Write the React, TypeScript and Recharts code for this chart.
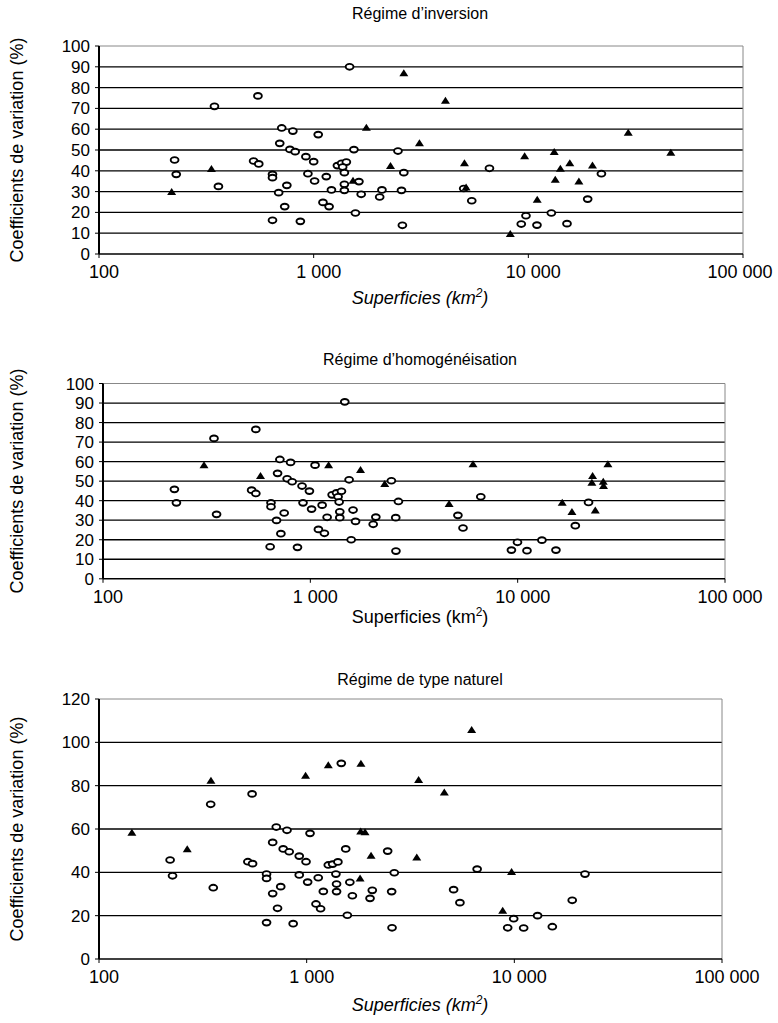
import React from 'react';
import { ScatterChart, Scatter, XAxis, YAxis, ReferenceLine } from 'recharts';

// [superficie km², coefficient de variation %]
const inversionCircles: [number, number][] = [
  [1470, 90], [550, 76], [345, 71], [710, 60.6], [800, 59.1], [1050, 57.4], [695, 53.2], [775, 50.3],
  [820, 49.2], [1540, 50.2], [2470, 49.5], [225, 45.2], [920, 46.8], [1000, 44.4], [525, 44.7], [555, 43.3],
  [1290, 42.5], [1350, 43.6], [1420, 44.2], [1365, 41.8], [1390, 39.1], [2630, 39.1], [229, 38.3], [643, 38.3],
  [643, 36.7], [940, 38.6], [1145, 37.2], [1010, 35.1], [750, 33], [1390, 33.5], [1625, 34.8], [360, 32.5],
  [687, 29.5], [1210, 30.8], [1390, 30.6], [1665, 28.7], [2080, 30.8], [2030, 27.4], [2565, 30.6], [1105, 24.8],
  [1180, 22.8], [733, 22.8], [1565, 19.7], [643, 16.2], [867, 15.7], [2590, 13.8],
  [6590, 41.2], [21900, 38.6], [5000, 31.5], [5450, 25.6], [18900, 26.4], [12800, 19.7], [9750, 18.4],
  [9270, 14.4], [10970, 13.9], [15140, 14.6],
];
const inversionTriangles: [number, number][] = [
  [2630, 86.9], [1760, 60.7], [3110, 53.2], [334, 40.9], [2280, 42.3], [218, 29.8], [1525, 35.2],
  [4110, 73.7], [29200, 58.3], [46100, 48.7], [9610, 47], [13200, 49], [5040, 43.6], [15600, 43.6],
  [19900, 42.5], [14100, 41], [13350, 35.7], [17200, 34.9], [5130, 32], [11000, 26.1], [8240, 9.6],
];

const homogCircles: [number, number][] = [
  [1466, 90.6], [546, 76.5], [343, 71.9], [713, 61.1], [803, 59.6], [1054, 58.2], [695, 54], [773, 51.2],
  [817, 49.7], [1538, 50.7], [2460, 50.2], [221, 45.8], [912, 47.5], [990, 44.9], [521, 45.4], [546, 43.7],
  [1274, 43], [1337, 44], [1413, 44.8], [1361, 42], [1377, 39.3], [2660, 39.6], [226, 38.9], [646, 38.9],
  [646, 36.9], [922, 38.9], [1140, 37.7], [1014, 35.7], [748, 33.7], [1387, 34.3], [1607, 35.2], [353, 33],
  [687, 29.9], [1205, 31.5], [1387, 31.3], [1652, 29.4], [2070, 31.6], [2010, 27.9], [2582, 31.3], [1094, 25.3],
  [1169, 23.3], [721, 23.1], [1574, 20], [640, 16.4], [867, 16.1], [2588, 14.2],
  [6640, 42], [5150, 32.5], [5450, 26], [21970, 39.1], [18970, 27.2], [13090, 19.8], [9980, 18.7],
  [9330, 14.7], [11090, 14.4], [15300, 14.7],
];
const homogTriangles: [number, number][] = [
  [307, 58.2], [575, 52.6], [1225, 58.2], [1746, 55.7], [2285, 48.5], [6090, 58.6], [4670, 38.3],
  [16400, 38.9], [18270, 34.2], [23680, 35], [22980, 52.7], [22800, 49.2], [25870, 49.7], [25950, 47.5],
  [27240, 58.6],
];

const naturelCircles: [number, number][] = [
  [1468, 90.3], [546, 76.2], [345, 71.4], [714, 60.9], [804, 59.4], [1038, 58], [686, 53.8], [771, 50.8],
  [824, 49.5], [1542, 50.8], [2455, 49.8], [220, 45.7], [921, 47.5], [993, 44.9], [521, 44.9], [549, 44],
  [1271, 43.4], [1334, 43.8], [1414, 44.8], [1383, 39.2], [2642, 39.8], [226, 38.4], [641, 39.2], [641, 37.2],
  [921, 38.8], [1137, 37.5], [1011, 35.5], [750, 33.4], [1393, 34.6], [1614, 35.4], [355, 32.9], [686, 30.2],
  [1203, 31.2], [1393, 31.1], [1660, 29.2], [2070, 31.7], [2019, 28], [2566, 31.1], [1109, 25.4], [1167, 23.2],
  [724, 23.4], [1570, 20.2], [641, 16.8], [861, 16.3], [2577, 14.4],
  [6620, 41.5], [21890, 39.2], [5100, 32], [5470, 26], [19000, 27.1], [12940, 20], [9930, 18.6],
  [9290, 14.4], [11090, 14.3], [15240, 14.9],
];
const naturelTriangles: [number, number][] = [
  [144, 58.3], [266, 50.6], [346, 82.3], [988, 84.6], [1271, 89.4], [1825, 90.1], [3460, 82.6],
  [1820, 58.9], [1910, 58.5], [2042, 47.7], [3390, 46.9], [1808, 37.2], [6230, 105.7], [4600, 76.8],
  [9700, 40.2], [8790, 22.3],
];

const xTicks = [100, 1000, 10000, 100000];
const yTicks100 = [0, 10, 20, 30, 40, 50, 60, 70, 80, 90, 100];
const yTicks120 = [0, 20, 40, 60, 80, 100, 120];

const FONT = '"Liberation Sans", Arial, sans-serif';

const fmt = (v: number) => String(v).replace(/\B(?=(\d{3})+(?!\d))/g, ' ');
const toPoints = (rows: [number, number][]) => rows.map(([x, y]) => ({ x, y }));

const Ring = (p: any) => (
  <ellipse cx={p.cx} cy={p.cy} rx={3.9} ry={2.9} fill="#fff" stroke="#000" strokeWidth={1.9} />
);
const Tri = (p: any) => (
  <path d={`M${p.cx},${p.cy - 4} L${p.cx + 4.5},${p.cy + 3} L${p.cx - 4.5},${p.cy + 3} Z`} fill="#000" />
);

// labels sit a bit right of their tick, but the last one must stay inside the page
const XTick = (props: any) => {
  const { x, y, payload } = props;
  const cx = Math.min(x + 5, 740);
  return (
    <text x={cx} y={y} dy="0.71em" textAnchor="middle" fontSize={18} fontFamily={FONT} fill="#000">
      {fmt(payload.value)}
    </text>
  );
};

interface PanelProps {
  top: number;
  height: number;
  left: number;
  right: number;
  plotTop: number;
  plotBottom: number;
  yTicks: number[];
  circles: [number, number][];
  triangles: [number, number][];
  title: string;
  titleY: number;
  xTitleY: number;
  italic: boolean;
}

function Panel(p: PanelProps) {
  const yMax = p.yTicks[p.yTicks.length - 1];
  const midY = (p.plotTop + p.plotBottom) / 2;
  return (
    <div style={{ position: 'absolute', left: 0, top: p.top, width: 778, height: p.height, fontFamily: FONT }}>
      <div style={{ position: 'absolute', left: 0, width: 840, top: p.titleY - 10, textAlign: 'center', fontSize: 16, lineHeight: '20px' }}>
        {p.title}
      </div>
      <div style={{ position: 'absolute', left: 0, width: 840, top: p.xTitleY - 11, textAlign: 'center', fontSize: 18, lineHeight: '22px', fontStyle: p.italic ? 'italic' : 'normal' }}>
        Superficies (km<sup style={{ fontSize: 12, lineHeight: 0 }}>2</sup>)
      </div>
      <div style={{ position: 'absolute', left: 17, top: midY, transform: 'translate(-50%,-50%) rotate(-90deg)', whiteSpace: 'nowrap', fontSize: 18, lineHeight: '22px' }}>
        Coefficients de variation (%)
      </div>
      <ScatterChart
        width={778}
        height={p.height}
        margin={{ top: p.plotTop, right: 778 - p.right, bottom: 0, left: 0 }}
      >
        <XAxis
          type="number"
          dataKey="x"
          scale="log"
          domain={[100, 100000]}
          ticks={xTicks}
          interval={0}
          allowDataOverflow
          height={p.height - p.plotBottom}
          tick={<XTick />}
          tickSize={4}
          tickMargin={7}
          axisLine={{ stroke: '#000', strokeWidth: 1.5 }}
          tickLine={{ stroke: '#000' }}
        />
        <YAxis
          type="number"
          dataKey="y"
          domain={[0, yMax]}
          ticks={p.yTicks}
          interval={0}
          width={p.left}
          tick={{ fontSize: 17, fill: '#000', fontFamily: FONT }}
          tickSize={4}
          tickMargin={5}
          axisLine={{ stroke: '#000', strokeWidth: 2 }}
          tickLine={{ stroke: '#000' }}
        />
        {p.yTicks.slice(1, -1).map((t) => (
          <ReferenceLine key={t} y={t} stroke="#000" strokeWidth={1.3} />
        ))}
        <ReferenceLine y={yMax} stroke="#888" strokeWidth={1} />
        <ReferenceLine x={100000} stroke="#888" strokeWidth={1} />
        <Scatter data={toPoints(p.circles)} shape={Ring} isAnimationActive={false} />
        <Scatter data={toPoints(p.triangles)} shape={Tri} isAnimationActive={false} />
      </ScatterChart>
    </div>
  );
}

export default function App() {
  return (
    <div style={{ position: 'absolute', left: 0, top: 0, width: 778, height: 1023, background: '#fff' }}>
      <Panel
        top={0} height={320} left={99} right={743} plotTop={46} plotBottom={254}
        yTicks={yTicks100} circles={inversionCircles} triangles={inversionTriangles}
        title="Régime d’inversion" titleY={14} xTitleY={298} italic
      />
      <Panel
        top={330} height={300} left={103} right={725} plotTop={53.5} plotBottom={248.8}
        yTicks={yTicks100} circles={homogCircles} triangles={homogTriangles}
        title="Régime d’homogénéisation" titleY={30} xTitleY={287} italic={false}
      />
      <Panel
        top={650} height={373} left={99} right={722} plotTop={49} plotBottom={309}
        yTicks={yTicks120} circles={naturelCircles} triangles={naturelTriangles}
        title="Régime de type naturel" titleY={30} xTitleY={355} italic
      />
    </div>
  );
}
